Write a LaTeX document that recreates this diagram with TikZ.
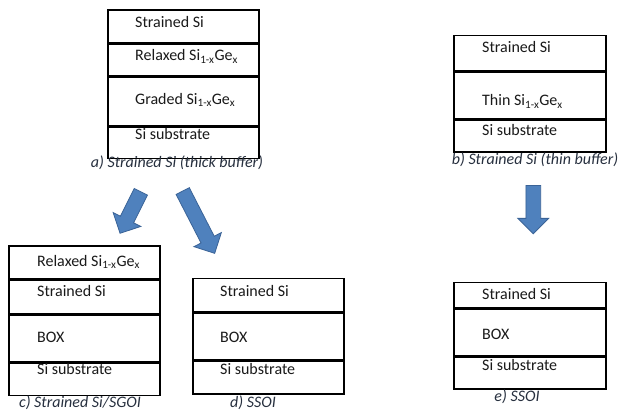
\documentclass[tikz,border=0pt]{standalone}
\usepackage{fontspec}
\setmainfont{Carlito}
\usetikzlibrary{shapes.arrows,calc}
\definecolor{arrowfill}{HTML}{4F81BD}
\definecolor{arrowline}{HTML}{3A6397}
\definecolor{captext}{HTML}{27303F}
\definecolor{bodytext}{HTML}{1A1A1A}
\begin{document}
\begin{tikzpicture}[x=1pt,y=-1pt,
  layer/.style={draw=black,line width=1.5pt,rectangle,anchor=north west,inner sep=0pt},
  lbl/.style={anchor=west,inner sep=0pt,text height=11pt,text depth=3pt,text=bodytext,font=\fontsize{16}{19}\selectfont},
  captionlbl/.style={inner sep=0pt,text height=11pt,text depth=3pt,text=captext,font=\fontsize{16}{19}\selectfont\itshape},
  blockarrow/.style={single arrow,fill=arrowfill,draw=arrowline,line width=0.8pt,
    inner xsep=0pt,inner ysep=7pt,single arrow head extend=8pt,minimum width=30pt,
    single arrow tip angle=90}]
\useasboundingbox[fill=white] (0,0) rectangle (621,412);
% ---- stack a
\node[layer,minimum width=151pt,minimum height=32.4pt] (a1) at (107,9.3) {};
\node[layer,minimum width=151pt,minimum height=32.3pt] (a2) at (a1.south west) {};
\node[layer,minimum width=151pt,minimum height=47.7pt] (a3) at (a2.south west) {};
\node[layer,minimum width=151pt,minimum height=31.3pt] (a4) at (a3.south west) {};
\node[lbl] (ta1) at (135,24) {Strained Si};
\node[lbl] (ta2) at (135,57) {Relaxed Si\textsubscript{1-x}Ge\textsubscript{x}};
\node[lbl] (ta3) at (135,100) {Graded Si\textsubscript{1-x}Ge\textsubscript{x}};
\node[lbl] (ta4) at (135,135) {Si substrate};
\node[captionlbl] (capa) at (177,163) {a) Strained Si (thick buffer)};
% ---- stack b
\node[layer,minimum width=152pt,minimum height=35pt] (b1) at (453,35) {};
\node[layer,minimum width=152pt,minimum height=46.7pt] (b2) at (b1.south west) {};
\node[layer,minimum width=152pt,minimum height=31.3pt] (b3) at (b2.south west) {};
\node[lbl] (tb1) at (482,48.3) {Strained Si};
\node[lbl] (tb2) at (482,101.7) {Thin Si\textsubscript{1-x}Ge\textsubscript{x}};
\node[lbl] (tb3) at (482,131.7) {Si substrate};
\node[captionlbl] (capb) at (535,160) {b) Strained Si (thin buffer)};
% ---- stack c
\node[layer,minimum width=151pt,minimum height=32.7pt] (c1) at (8,245) {};
\node[layer,minimum width=151pt,minimum height=33.3pt] (c2) at (c1.south west) {};
\node[layer,minimum width=151pt,minimum height=46.7pt] (c3) at (c2.south west) {};
\node[layer,minimum width=151pt,minimum height=32.3pt] (c4) at (c3.south west) {};
\node[lbl] (tc1) at (37,262.3) {Relaxed Si\textsubscript{1-x}Ge\textsubscript{x}};
\node[lbl] (tc2) at (37,292.3) {Strained Si};
\node[lbl] (tc3) at (37,338.3) {BOX};
\node[lbl] (tc4) at (37,370) {Si substrate};
\node[captionlbl] (capc) at (80,403) {c) Strained Si/SGOI};
% ---- stack d
\node[layer,minimum width=151pt,minimum height=33.3pt] (d1) at (192,277.7) {};
\node[layer,minimum width=151pt,minimum height=46.7pt] (d2) at (d1.south west) {};
\node[layer,minimum width=151pt,minimum height=32.3pt] (d3) at (d2.south west) {};
\node[lbl] (td1) at (220,292.3) {Strained Si};
\node[lbl] (td2) at (220,338.3) {BOX};
\node[lbl] (td3) at (220,370) {Si substrate};
\node[captionlbl] (capd) at (253,403) {d) SSOI};
% ---- stack e
\node[layer,minimum width=152pt,minimum height=25pt] (e1) at (453,281.7) {};
\node[layer,minimum width=152pt,minimum height=46.3pt] (e2) at (e1.south west) {};
\node[layer,minimum width=152pt,minimum height=32pt] (e3) at (e2.south west) {};
\node[lbl] (te1) at (482,295) {Strained Si};
\node[lbl] (te2) at (482,335) {BOX};
\node[lbl] (te3) at (482,366.7) {Si substrate};
\node[captionlbl] (cape) at (517,397) {e) SSOI};
% ---- block arrows
\node[blockarrow,minimum height=46.4pt,rotate=243.4] (arrc) at (132.1,209.25) {};
\node[blockarrow,minimum height=70pt,rotate=-62.8] (arrd) at (197,218.9) {};
\node[blockarrow,minimum height=48.3pt,rotate=-90] (arre) at (533.3,205.9) {};
\end{tikzpicture}
\end{document}
